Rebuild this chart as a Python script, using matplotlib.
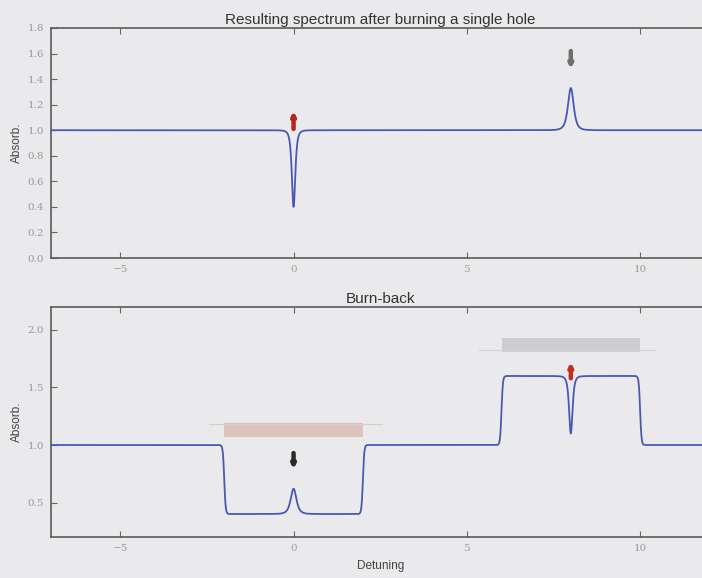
import numpy as np
import matplotlib
matplotlib.use("Agg")
import matplotlib.pyplot as plt

# detuning grid
detuning = np.linspace(-7, 12, 4000)

# single hole: (centre, amplitude, half width) -- negative amplitude is a hole
hole_centres = [0.0, 8.0]
hole_amps = [-0.6, 0.33]
hole_widths = [0.09, 0.15]

# burn-back: plateaus (start, stop, level) on a baseline of 1.0
plateau_starts = [-2.0, 6.0]
plateau_stops = [2.0, 10.0]
plateau_levels = [0.4, 1.6]
bb_centres = [0.0, 8.0]
bb_amps = [0.22, -0.5]
bb_widths = [0.15, 0.09]

# arrows (x, y_tail, y_head, colour)
top_arrows = [(0.0, 1.01, 1.15, "#b8231c"), (8.0, 1.62, 1.48, "#6e6e6e")]
bottom_arrows = [(0.0, 0.93, 0.79, "#2a2a2a"), (8.0, 1.58, 1.72, "#c0301e")]

# laser sweep bands in the burn-back panel (x0, x1, y0, y1, colour)
sweep_bands = [(-2.0, 2.0, 1.07, 1.19, "#dcc3bc"), (6.0, 10.0, 1.81, 1.93, "#cdcdd0")]
sweep_lines = [(-2.45, 2.55, 1.18, "#d9cdc9"), (5.35, 10.4, 1.83, "#d4d4d6")]

bg = "#eaeaec"
line_col = "#4b58b2"
sans = "Liberation Sans"


def hole(x, x0, a, g):
    # squared lorentzian: sharp line with short wings
    return a * (g**2 / ((x - x0)**2 + g**2))**2


def step(x, lo, hi, level, base=1.0, w=0.04):
    s = 0.5 * (np.tanh((x - lo) / w) - np.tanh((x - hi) / w))
    return (level - base) * s


spec1 = np.ones_like(detuning)
for c, a, g in zip(hole_centres, hole_amps, hole_widths):
    spec1 += hole(detuning, c, a, g)

spec2 = np.ones_like(detuning)
for lo, hi, lev in zip(plateau_starts, plateau_stops, plateau_levels):
    spec2 += step(detuning, lo, hi, lev)
for c, a, g in zip(bb_centres, bb_amps, bb_widths):
    spec2 += hole(detuning, c, a, g)

fig = plt.figure(figsize=(7.02, 5.78), dpi=100)
fig.patch.set_facecolor(bg)
ax1 = fig.add_axes([0.0726, 0.5536, 0.938, 0.398])
ax2 = fig.add_axes([0.0726, 0.0709, 0.938, 0.398])

arrow_style = "-|>,head_width=0.1,head_length=0.2"

for ax in (ax1, ax2):
    ax.set_facecolor(bg)
    ax.set_xlim(-7, 12)
    ax.tick_params(direction="in", top=True, right=True, length=4, width=0.8,
                   colors="#666666", labelcolor="#9a9a9a", pad=5)
    for sp in ax.spines.values():
        sp.set_color("#5a5a5a")
        sp.set_linewidth(1.2)
    ax.set_ylabel("Absorb.", fontsize=8.5, color="#444444", labelpad=3,
                  family=sans)

ax1.plot(detuning, spec1, color=line_col, lw=1.3)
ax1.set_ylim(0, 1.8)
ax1.set_yticks(np.arange(0, 1.81, 0.2))
ax1.set_xticks([-5, 0, 5, 10])
ax1.set_title("Resulting spectrum after burning a single hole", fontsize=11,
              color="#333333", pad=3, family=sans)

for x, y0, y1, col in top_arrows:
    ax1.annotate("", xy=(x, y1), xytext=(x, y0),
                 arrowprops=dict(arrowstyle=arrow_style, lw=3.2, color=col,
                                 shrinkA=0, shrinkB=0))

for x0, x1, y0, y1, col in sweep_bands:
    ax2.fill_between([x0, x1], y0, y1, color=col, lw=0)
for x0, x1, y, col in sweep_lines:
    ax2.plot([x0, x1], [y, y], color=col, lw=0.8)

ax2.plot(detuning, spec2, color=line_col, lw=1.3)
ax2.set_ylim(0.2, 2.2)
ax2.set_yticks([0.5, 1.0, 1.5, 2.0])
ax2.set_xticks([-5, 0, 5, 10])
ax2.set_title("Burn-back", fontsize=11, color="#333333", pad=3, family=sans)
ax2.set_xlabel("Detuning", fontsize=8.5, color="#444444", labelpad=5,
               family=sans)

for x, y0, y1, col in bottom_arrows:
    ax2.annotate("", xy=(x, y1), xytext=(x, y0),
                 arrowprops=dict(arrowstyle=arrow_style, lw=3.2, color=col,
                                 shrinkA=0, shrinkB=0))

for ax in (ax1, ax2):
    for lab in ax.get_xticklabels() + ax.get_yticklabels():
        lab.set_fontfamily("DejaVu Serif")
        lab.set_fontsize(7.5)

fig.savefig("out.png", dpi=100, facecolor=bg)
